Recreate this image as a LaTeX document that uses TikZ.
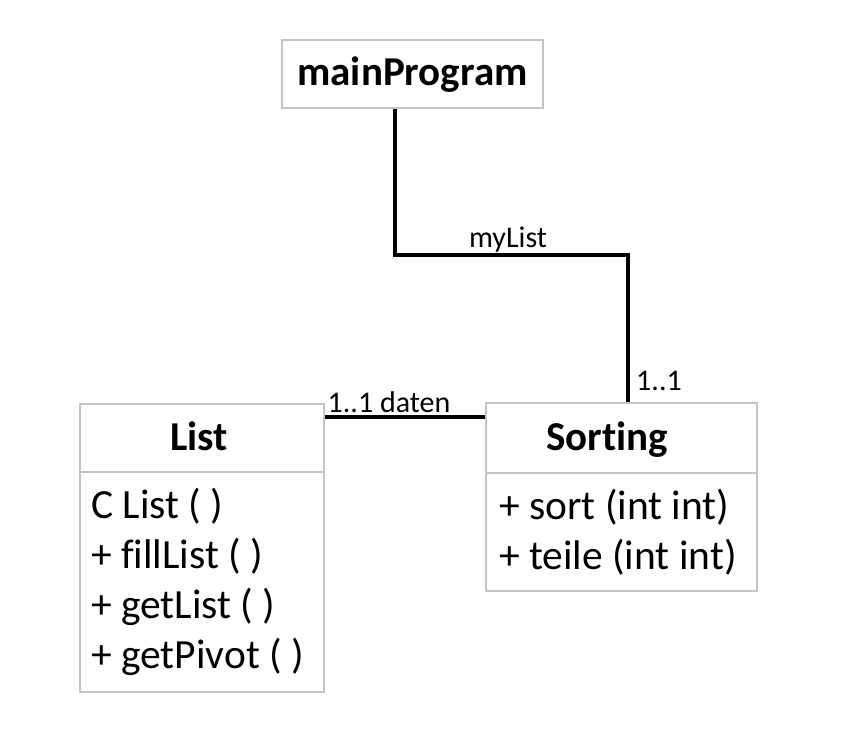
\documentclass[tikz,border=0pt]{standalone}
\usepackage{fontspec}
\setmainfont{Carlito}[Ligatures={NoCommon}]
\definecolor{boxgray}{HTML}{C4C4C4}
\begin{document}
\begin{tikzpicture}[x=1pt,y=-1pt,
  box/.style={draw=boxgray,line width=1.6pt,inner sep=0pt,minimum width=#1},
  title/.style={font=\fontsize{41}{48}\selectfont\bfseries,anchor=base,inner sep=0pt},
  item/.style={font=\fontsize{41.5}{50}\selectfont,anchor=base west,inner sep=0pt},
  conn/.style={line width=3.8pt,black},
  lbl/.style={font=\fontsize{30}{34}\selectfont,inner sep=0pt,anchor=base}]
\useasboundingbox[fill=white] (0,0) rectangle (867,737);
% boxes
\node[box=261pt,minimum height=68pt] (main) at (412.5,74) {};
\node[title] (maintitle) at (412.5,85) {mainProgram};
\node[box=244pt,minimum height=68pt] (listhead) at (202,438) {};
\node[title] (listtitle) at (199,450) {List};
\node[box=244pt,minimum height=220pt] (listbody) at (202,582) {};
\node[box=271pt,minimum height=70pt] (sorthead) at (621.5,438) {};
\node[title] (sorttitle) at (607,450) {Sorting};
\node[box=271pt,minimum height=118pt] (sortbody) at (621.5,532) {};
% items
\node[item] (l1) at (91,518) {C List ( )};
\node[item] (l2) at (91,568) {+ fillList ( )};
\node[item] (l3) at (91,618) {+ getList ( )};
\node[item] (l4) at (91,668) {+ getPivot ( )};
\node[item] (s1) at (499,519) {+ sort (int int)};
\node[item] (s2) at (499,569) {+ teile (int int)};
% connectors
\draw[conn] ([xshift=-17.5pt]main.south) -- ++(0,146) coordinate (bend) -| ([xshift=6.5pt]sorthead.north);
\draw[conn] ([yshift=-14pt]listhead.north east) -- ([yshift=-15pt]sorthead.north west);
% labels
\node[lbl] (myl) at (508,247) {myList};
\node[lbl] (m1) at (659,390) {1..1};
\node[lbl] (m2) at (389,412) {1..1 daten};
\end{tikzpicture}
\end{document}
